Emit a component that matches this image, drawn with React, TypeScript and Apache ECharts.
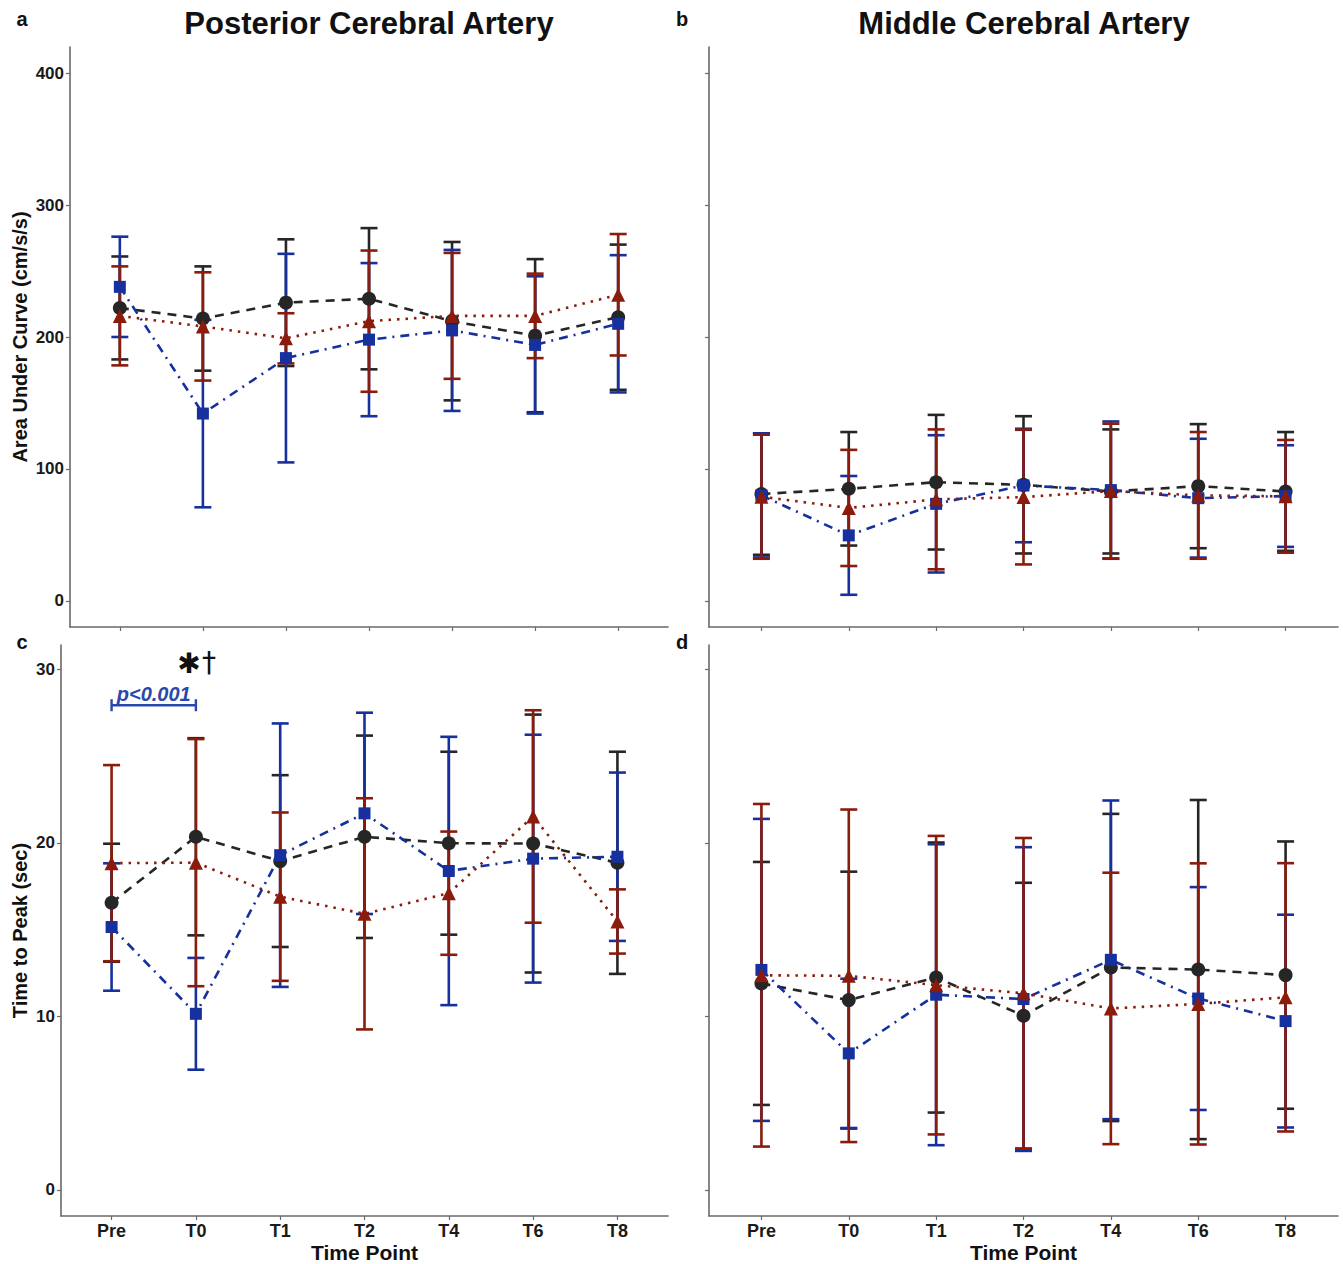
import React, { useEffect, useRef } from "react";
import * as echarts from "echarts";

// ---------- categories & ticks ----------
const timePoints = ["Pre", "T0", "T1", "T2", "T4", "T6", "T8"];
const aucTicks = [0, 100, 200, 300, 400];
const ttpTicks = [0, 10, 20, 30];

// ---------- panel a: Posterior Cerebral Artery, Area Under Curve ----------
const pcaAucBlackMean = [222, 214, 226, 229, 212, 201, 215];
const pcaAucBlackErr = [39, 39.5, 48, 53.5, 60, 58, 55];
const pcaAucBlueMean = [238, 142, 184, 198, 205, 194, 210];
const pcaAucBlueErr = [38, 71, 79, 58, 61, 52, 52];
const pcaAucRedMean = [216, 208, 199, 212, 216, 216, 232];
const pcaAucRedErr = [37.5, 41, 19, 53.5, 47.7, 32, 46];

// ---------- panel b: Middle Cerebral Artery, Area Under Curve ----------
const mcaAucBlackMean = [81, 85, 90, 88, 83, 87, 83];
const mcaAucBlackErr = [46, 43, 51, 52, 47, 47, 45];
const mcaAucBlueMean = [80, 49.7, 73.6, 87.5, 84, 77.9, 79.5];
const mcaAucBlueErr = [47, 45, 52, 43, 52, 45, 38.5];
const mcaAucRedMean = [79, 70.5, 77, 78.7, 83.3, 80, 79.3];
const mcaAucRedErr = [47, 44, 53, 51, 51, 48, 42.7];

// ---------- panel c: Posterior Cerebral Artery, Time to Peak ----------
const pcaTtpBlackMean = [16.55, 20.35, 18.95, 20.35, 19.98, 19.96, 18.85];
const pcaTtpBlackErr = [3.4, 5.68, 4.95, 5.83, 5.27, 7.43, 6.4];
const pcaTtpBlueMean = [15.15, 10.15, 19.29, 21.7, 18.38, 19.09, 19.2];
const pcaTtpBlueErr = [3.67, 3.22, 7.59, 5.8, 7.73, 7.14, 4.85];
const pcaTtpRedMean = [18.83, 18.86, 16.9, 15.91, 17.1, 21.52, 15.47];
const pcaTtpRedErr = [5.65, 7.12, 4.85, 6.66, 3.55, 6.12, 1.85];

// ---------- panel d: Middle Cerebral Artery, Time to Peak ----------
const mcaTtpBlackMean = [11.9, 10.94, 12.24, 10.04, 12.82, 12.7, 12.38];
const mcaTtpBlackErr = [7.0, 7.4, 7.78, 7.66, 8.85, 9.77, 7.7];
const mcaTtpBlueMean = [12.68, 7.87, 11.25, 11.0, 13.26, 11.03, 9.73];
const mcaTtpBlueErr = [8.7, 4.3, 8.67, 8.75, 9.18, 6.42, 6.13];
const mcaTtpRedMean = [12.37, 12.34, 11.8, 11.33, 10.46, 10.72, 11.1];
const mcaTtpRedErr = [9.87, 9.58, 8.6, 8.95, 7.82, 8.1, 7.73];

// ---------- significance annotation (panel c) ----------
const sigFrom = 0; // Pre index
const sigTo = 1; // T0 index
const sigY = 27.93;
const sigLabel = "p<0.001";
const sigMarkY = 30.4;

const FONT = "Liberation Sans, Arial, sans-serif";
const AXIS_GREY = "#6a6a6a";
const BLACK = "#262626";
const BLUE = "#16309e";
const RED = "#8b1c0c";

const groups = [
  { key: "black", color: BLACK, symbol: "circle", size: 14, dash: [9, 7] },
  { key: "blue", color: BLUE, symbol: "rect", size: 12, dash: [9, 6, 2, 6] },
  { key: "red", color: RED, symbol: "triangle", size: 14, dash: [2.5, 6] },
];

const panels = [
  {
    black: [pcaAucBlackMean, pcaAucBlackErr],
    blue: [pcaAucBlueMean, pcaAucBlueErr],
    red: [pcaAucRedMean, pcaAucRedErr],
  },
  {
    black: [mcaAucBlackMean, mcaAucBlackErr],
    blue: [mcaAucBlueMean, mcaAucBlueErr],
    red: [mcaAucRedMean, mcaAucRedErr],
  },
  {
    black: [pcaTtpBlackMean, pcaTtpBlackErr],
    blue: [pcaTtpBlueMean, pcaTtpBlueErr],
    red: [pcaTtpRedMean, pcaTtpRedErr],
  },
  {
    black: [mcaTtpBlackMean, mcaTtpBlackErr],
    blue: [mcaTtpBlueMean, mcaTtpBlueErr],
    red: [mcaTtpRedMean, mcaTtpRedErr],
  },
];

function errorBarSeries(gi: number, color: string, mean: number[], err: number[]) {
  return {
    type: "custom",
    xAxisIndex: gi,
    yAxisIndex: gi,
    z: 2,
    encode: { x: 0, y: [1, 2] },
    data: mean.map((m, k) => [k, m - err[k], m + err[k]]),
    renderItem: (params: any, api: any) => {
      const x = api.value(0);
      const lo = api.coord([x, api.value(1)]);
      const hi = api.coord([x, api.value(2)]);
      const hw = 8.5;
      const style = { stroke: color, lineWidth: 2.6, fill: null };
      return {
        type: "group",
        children: [
          { type: "line", shape: { x1: lo[0], y1: lo[1], x2: hi[0], y2: hi[1] }, style },
          { type: "line", shape: { x1: lo[0] - hw, y1: lo[1], x2: lo[0] + hw, y2: lo[1] }, style },
          { type: "line", shape: { x1: hi[0] - hw, y1: hi[1], x2: hi[0] + hw, y2: hi[1] }, style },
        ],
      };
    },
  };
}

function lineSeries(gi: number, g: any, mean: number[]) {
  return {
    type: "line",
    xAxisIndex: gi,
    yAxisIndex: gi,
    z: 3,
    data: mean.map((m, k) => [k, m]),
    symbol: g.symbol,
    symbolSize: g.size,
    itemStyle: { color: g.color, opacity: 1 },
    lineStyle: { color: g.color, width: 2.6, type: g.dash },
  };
}

export default function App() {
  const ref = useRef<HTMLDivElement>(null);

  useEffect(() => {
    if (!ref.current) return;
    const chart = echarts.init(ref.current, null, { renderer: "svg" });

    const grids = [
      { left: 70, top: 47, width: 598, height: 580 },
      { left: 709, top: 47, width: 629, height: 580 },
      { left: 61, top: 645, width: 607, height: 573 },
      { left: 709, top: 645, width: 629, height: 573 },
    ];

    const idx = timePoints.map((_, k) => k);

    const xAxes = grids.map((_, i) => ({
      type: "value",
      gridIndex: i,
      min: -0.6,
      max: 6.6,
      splitLine: { show: false },
      axisLine: { show: true, onZero: false, lineStyle: { color: AXIS_GREY, width: 1.6 } },
      axisTick: { show: true, customValues: idx, length: 4, lineStyle: { color: AXIS_GREY, width: 1.2 } },
      axisLabel: {
        show: i >= 2,
        customValues: idx,
        formatter: (v: number) => timePoints[Math.round(v)] ?? "",
        color: "#1a1a1a",
        fontFamily: FONT,
        fontWeight: "bold",
        fontSize: 18,
        margin: 6,
      },
      name: i >= 2 ? "Time Point" : "",
      nameLocation: "middle",
      nameGap: 26,
      nameTextStyle: { fontFamily: FONT, fontWeight: "bold", fontSize: 21, color: "#111" },
    }));

    const yAxes = grids.map((_, i) => {
      const auc = i < 2;
      return {
        type: "value",
        gridIndex: i,
        min: auc ? -19.7 : -1.5,
        max: auc ? 419.7 : 31.4,
        splitLine: { show: false },
        axisLine: { show: true, onZero: false, lineStyle: { color: AXIS_GREY, width: 1.6 } },
        axisTick: {
          show: true,
          customValues: auc ? aucTicks : ttpTicks,
          length: 4,
          lineStyle: { color: AXIS_GREY, width: 1.2 },
        },
        axisLabel: {
          show: i === 0 || i === 2,
          customValues: auc ? aucTicks : ttpTicks,
          color: "#1a1a1a",
          fontFamily: FONT,
          fontWeight: "bold",
          fontSize: 17,
          margin: 6,
        },
        name: i === 0 ? "Area Under Curve (cm/s/s)" : i === 2 ? "Time to Peak (sec)" : "",
        nameLocation: "middle",
        nameRotate: 90,
        nameGap: i === 0 ? 40 : 31,
        nameTextStyle: { fontFamily: FONT, fontWeight: "bold", fontSize: 20, color: "#111" },
      };
    });

    const series: any[] = [];
    panels.forEach((p: any, gi) => {
      groups.forEach((g) => {
        series.push(errorBarSeries(gi, g.color, p[g.key][0], p[g.key][1]));
      });
    });
    panels.forEach((p: any, gi) => {
      groups.forEach((g) => {
        series.push(lineSeries(gi, g, p[g.key][0]));
      });
    });

    // significance annotation in panel c
    series.push({
      type: "custom",
      xAxisIndex: 2,
      yAxisIndex: 2,
      z: 5,
      data: [[sigFrom, sigTo, sigY, sigMarkY]],
      renderItem: (params: any, api: any) => {
        const a = api.coord([api.value(0), api.value(2)]);
        const b = api.coord([api.value(1), api.value(2)]);
        const m = api.coord([api.value(1), api.value(3)]);
        const style = { stroke: "#2a48ab", lineWidth: 2.4, fill: null };
        return {
          type: "group",
          children: [
            { type: "line", shape: { x1: a[0], y1: a[1], x2: b[0], y2: b[1] }, style },
            { type: "line", shape: { x1: a[0], y1: a[1] - 6, x2: a[0], y2: a[1] + 6 }, style },
            { type: "line", shape: { x1: b[0], y1: b[1] - 6, x2: b[0], y2: b[1] + 6 }, style },
            {
              type: "text",
              x: (a[0] + b[0]) / 2,
              y: a[1] - 1,
              style: {
                text: sigLabel,
                fill: "#2a48ab",
                font: `italic bold 20px ${FONT}`,
                textAlign: "center",
                textVerticalAlign: "bottom",
              },
            },
            {
              type: "text",
              x: m[0] - 7,
              y: m[1] + 1,
              style: {
                text: "\u2731",
                fill: "#111",
                font: `normal 28px DejaVu Sans, ${FONT}`,
                textAlign: "center",
                textVerticalAlign: "middle",
              },
            },
            {
              type: "text",
              x: m[0] + 13,
              y: m[1],
              style: {
                text: "\u2020",
                fill: "#111",
                font: `normal 28px DejaVu Sans, ${FONT}`,
                textAlign: "center",
                textVerticalAlign: "middle",
              },
            },
          ],
        };
      },
    });

    const letter = (t: string, x: number, y: number) => ({
      type: "text",
      x,
      y,
      style: {
        text: t,
        fill: "#111",
        font: `bold 20px ${FONT}`,
        textAlign: "center",
        textVerticalAlign: "middle",
      },
    });
    const title = (t: string, x: number) => ({
      type: "text",
      x,
      y: 23,
      style: {
        text: t,
        fill: "#111",
        font: `bold 31px ${FONT}`,
        textAlign: "center",
        textVerticalAlign: "middle",
      },
    });

    chart.setOption({
      animation: false,
      backgroundColor: "#ffffff",
      grid: grids,
      xAxis: xAxes,
      yAxis: yAxes,
      series,
      graphic: [
        title("Posterior Cerebral Artery", 369),
        title("Middle Cerebral Artery", 1024),
        letter("a", 22, 19),
        letter("b", 682, 19),
        letter("c", 22, 642),
        letter("d", 682, 642),
      ],
    });

    return () => chart.dispose();
  }, []);

  return (
    <div
      ref={ref}
      style={{ position: "absolute", left: 0, top: 0, width: 1343, height: 1264, background: "#fff" }}
    />
  );
}
